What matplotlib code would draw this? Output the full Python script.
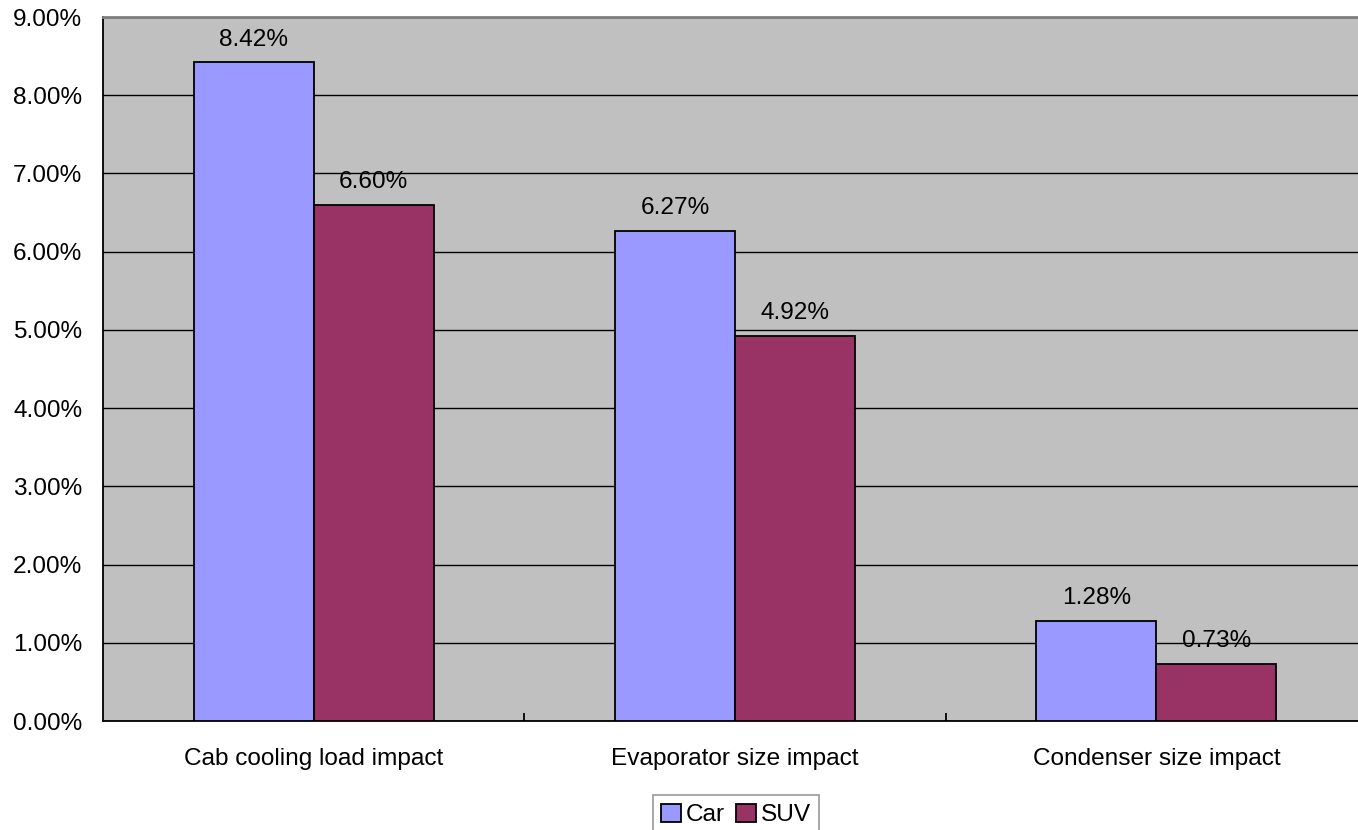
import matplotlib
matplotlib.use("Agg")
import matplotlib.pyplot as plt
import numpy as np
from matplotlib.ticker import FuncFormatter, MultipleLocator

plt.rcParams['font.family'] = ['Liberation Sans', 'DejaVu Sans']

categories = ["Cab cooling load impact", "Evaporator size impact", "Condenser size impact"]
series_names = ["Car", "SUV"]
car_values = [8.42, 6.27, 1.28]
suv_values = [6.60, 4.92, 0.73]
colors = ["#9999FF", "#993366"]

fig = plt.figure(figsize=(13.58, 8.30), dpi=100)
ax = fig.add_axes([103 / 1358, 1 - 721 / 830, (1367 - 103) / 1358, (721 - 17) / 830])
ax.set_facecolor("#C0C0C0")

x = np.arange(len(categories))
width = 0.285
fs = 17.6

bars = []
for i, (vals, name) in enumerate(zip([car_values, suv_values], series_names)):
    offs = (i - 0.5) * width
    b = ax.bar(x + offs, vals, width, color=colors[i], edgecolor="black",
               linewidth=1.3, label=name, zorder=3)
    bars.append(b)
    for xi, v in zip(x + offs, vals):
        ax.annotate(f"{v:.2f}%", (xi, v), xytext=(0, 8.5), textcoords="offset points",
                    ha="center", va="bottom", fontsize=fs, zorder=4)

ax.set_xlim(-0.5, 2.5)
ax.set_ylim(0, 9)
ax.yaxis.set_major_locator(MultipleLocator(1))
ax.yaxis.set_major_formatter(FuncFormatter(lambda v, p: f"{v:.2f}%"))
ax.grid(axis="y", color="black", linewidth=1.0, zorder=1)
ax.set_axisbelow(True)

ax.set_xticks(x)
ax.set_xticklabels(categories)
ax.set_xticks([0.5, 1.5], minor=True)
ax.tick_params(axis="x", which="major", length=0, pad=19.5, labelsize=fs)
ax.tick_params(axis="x", which="minor", direction="in", length=6, width=1.3, color="black")
ax.tick_params(axis="y", length=0, pad=15, labelsize=fs)

for s in ["left", "bottom"]:
    ax.spines[s].set_color("black")
    ax.spines[s].set_linewidth(1.3)
ax.spines["top"].set_color("#808080")
ax.spines["top"].set_linewidth(2)
ax.spines["right"].set_visible(False)

leg = fig.legend(handles=bars, labels=series_names, loc="upper center",
                 bbox_to_anchor=(736 / 1358, 1 - 795 / 830), ncol=2, fontsize=fs,
                 frameon=True, fancybox=False, edgecolor="#808080",
                 handlelength=0.8, handleheight=0.8, handletextpad=0.2,
                 columnspacing=0.45, borderpad=0.35, borderaxespad=0)
leg.get_frame().set_linewidth(1.2)

fig.savefig("out.png", dpi=100, facecolor="white")
